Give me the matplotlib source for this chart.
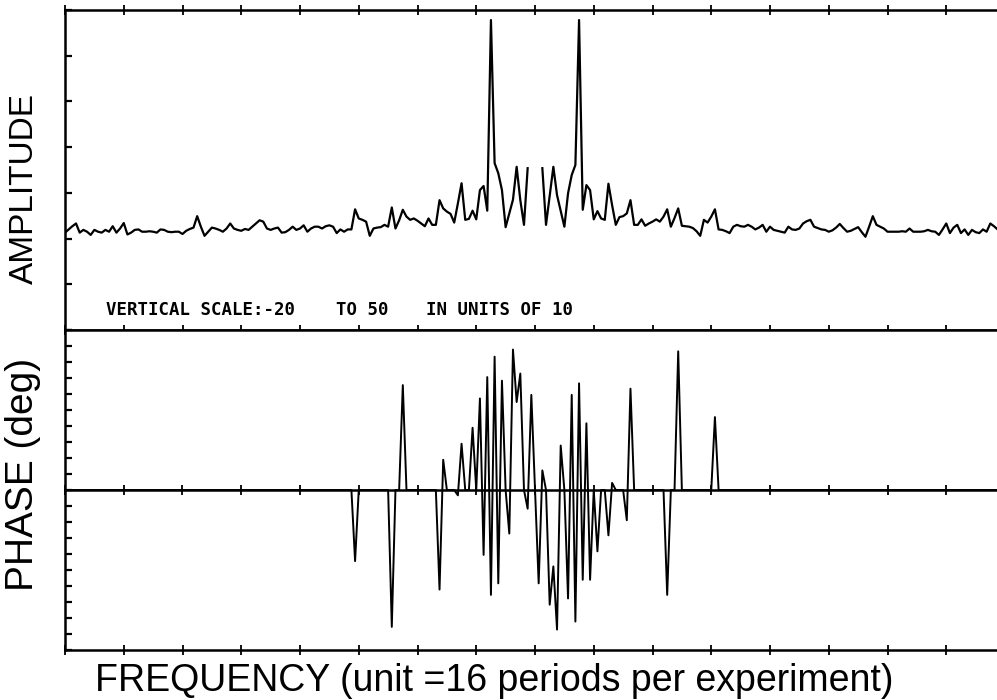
import numpy as np
import matplotlib.pyplot as plt

# spectrum magnitude (dB) per frequency bin, bins 127-129 off scale
amplitude = [
    1.3, 2.0, 2.7, 3.3, 1.3, 1.9, 1.5, 0.8, 1.9, 1.5, 1.3, 1.9, 1.5, 2.7, 1.3, 2.2,
    3.4, 0.9, 1.3, 1.9, 2.0, 1.5, 1.5, 1.6, 1.5, 1.3, 2.0, 1.9, 1.5, 1.4, 1.5, 1.5,
    1.0, 1.7, 2.1, 2.4, 4.9, 2.6, 0.6, 1.5, 2.4, 2.2, 1.9, 1.5, 2.2, 3.3, 2.2, 1.9,
    1.7, 2.1, 1.9, 2.6, 3.3, 4.0, 3.7, 2.2, 1.9, 2.2, 2.4, 1.3, 1.4, 1.9, 2.6, 1.9,
    2.2, 2.9, 1.5, 2.2, 2.6, 2.6, 2.2, 2.7, 2.9, 2.6, 1.2, 2.0, 1.5, 2.0, 2.0, 6.4,
    4.4, 4.1, 3.7, 0.6, 2.2, 2.4, 2.5, 3.0, 2.6, 6.8, 2.2, 4.0, 6.3, 4.8, 4.1, 4.4,
    3.9, 3.3, 2.7, 4.4, 3.0, 3.0, 8.4, 6.6, 5.9, 5.4, 3.5, 7.7, 12.1, 4.1, 4.3, 6.1,
    4.2, 10.6, 11.5, 6.1, 47.8, 16.5, 14.3, 10.6, 2.5, 5.5, 8.5, 15.7, 8.4, 3.0, 15.4, np.nan,
    np.nan, np.nan, 15.4, 3.0, 9.3, 15.7, 9.5, 6.0, 2.6, 9.9, 13.9, 16.1, 47.8, 6.3, 11.7, 10.6,
    4.2, 6.0, 4.4, 4.1, 12.0, 7.3, 3.0, 4.7, 4.9, 5.5, 8.4, 3.0, 3.0, 4.2, 2.8, 3.3,
    3.7, 4.2, 3.7, 4.8, 6.4, 2.6, 4.5, 6.6, 2.8, 2.7, 2.6, 2.3, 1.6, 0.6, 4.1, 3.5,
    4.8, 6.4, 2.0, 1.9, 1.6, 1.2, 2.6, 3.0, 2.7, 2.6, 3.0, 2.6, 2.0, 2.4, 3.0, 1.5,
    2.6, 1.9, 1.7, 1.5, 1.3, 2.6, 2.0, 1.9, 2.2, 3.3, 3.8, 4.1, 2.6, 2.3, 2.0, 1.9,
    1.5, 1.8, 2.4, 3.2, 2.3, 1.5, 1.7, 2.1, 2.5, 1.4, 0.4, 2.6, 4.9, 3.0, 2.6, 2.2,
    1.5, 1.5, 1.5, 1.5, 1.6, 1.5, 2.2, 1.5, 1.5, 1.5, 1.6, 1.9, 1.6, 1.5, 0.8, 2.0,
    3.3, 1.2, 2.4, 3.0, 1.2, 2.0, 0.8, 1.9, 1.4, 1.2, 2.0, 1.5, 3.3, 2.7, 2.0, 1.3,
]

# bins with non-zero phase and their phase in degrees (all others are 0)
phase_bins = [79, 89, 92, 102, 103, 107, 108, 111, 113, 114, 115, 116, 117, 118,
              119, 121, 122, 123, 124, 126, 127, 129, 130, 132, 133, 134, 135, 137,
              138, 139, 140, 141, 142, 143, 145, 148, 149, 153, 154, 164, 167, 177]
phase_deg = [-80, -154, 118, -112, 34, -6, 52, 70, 103, -73, 127, -118, 150, -105,
             123, -49, 158, 99, 131, -21, 107, -105, 22, -129, -86, -157, 50, -122,
             107, -148, 120, -101, 75, -101, -69, -51, 8, -34, 114, -118, 156, 82]

freq = np.arange(len(amplitude))
phase = np.zeros(len(amplitude))
phase[phase_bins] = phase_deg

xticks = np.arange(0, 257, 16)

fig = plt.figure(figsize=(9.97, 7.0), dpi=100)
ax1 = fig.add_axes([65/997, 370/700, 940/997, 320/700])
ax2 = fig.add_axes([65/997, 50/700, 940/997, 320/700])

ax1.plot(freq, amplitude, color='black', lw=1.6)
ax1.set_ylim(-20, 50)
ax1.set_yticks(np.arange(-20, 51, 10))

ax2.plot(freq, phase, color='black', lw=1.4)
ax2.set_ylim(-180, 180)
ax2.set_yticks(np.arange(-180, 181, 18))

for ax in (ax1, ax2):
    ax.set_xlim(0, 256)
    ax.set_xticks(xticks)
    ax.tick_params(axis='x', direction='inout', length=7, width=1.3,
                   top=True, bottom=True, labelbottom=False)
    ax.tick_params(axis='y', direction='in', length=5, width=1.6,
                   left=True, right=True, labelleft=False)
    for s in ax.spines.values():
        s.set_linewidth(1.8)

# zero line of the phase panel, with its own crossing ticks
zero = ax2.twiny()
zero.set_xlim(ax2.get_xlim())
zero.set_xticks(xticks)
zero.spines['top'].set_position(('data', 0))
zero.spines['top'].set_linewidth(1.8)
for s in ('left', 'right', 'bottom'):
    zero.spines[s].set_visible(False)
zero.tick_params(axis='x', direction='inout', length=7, width=1.3, labeltop=False)

mono = dict(family='DejaVu Sans Mono', fontsize=12.5, weight='bold', va='center')
fig.text(106/997, 1 - 310/700, 'VERTICAL SCALE:-20', **mono)
fig.text(336/997, 1 - 310/700, 'TO 50', **mono)
fig.text(426/997, 1 - 310/700, 'IN UNITS OF 10', **mono)

fig.text(24/997, 1 - 188/700, 'AMPLITUDE', rotation=90, ha='center', va='center',
         family='Liberation Sans', fontsize=24)
fig.text(23/997, 1 - 474/700, 'PHASE (deg)', rotation=90, ha='center', va='center',
         family='Liberation Sans', fontsize=28)
fig.text(494/997, 1 - 681/700, 'FREQUENCY (unit =16 periods per experiment)',
         ha='center', va='center', family='Liberation Sans', fontsize=27)

fig.savefig('out.png', dpi=100)
